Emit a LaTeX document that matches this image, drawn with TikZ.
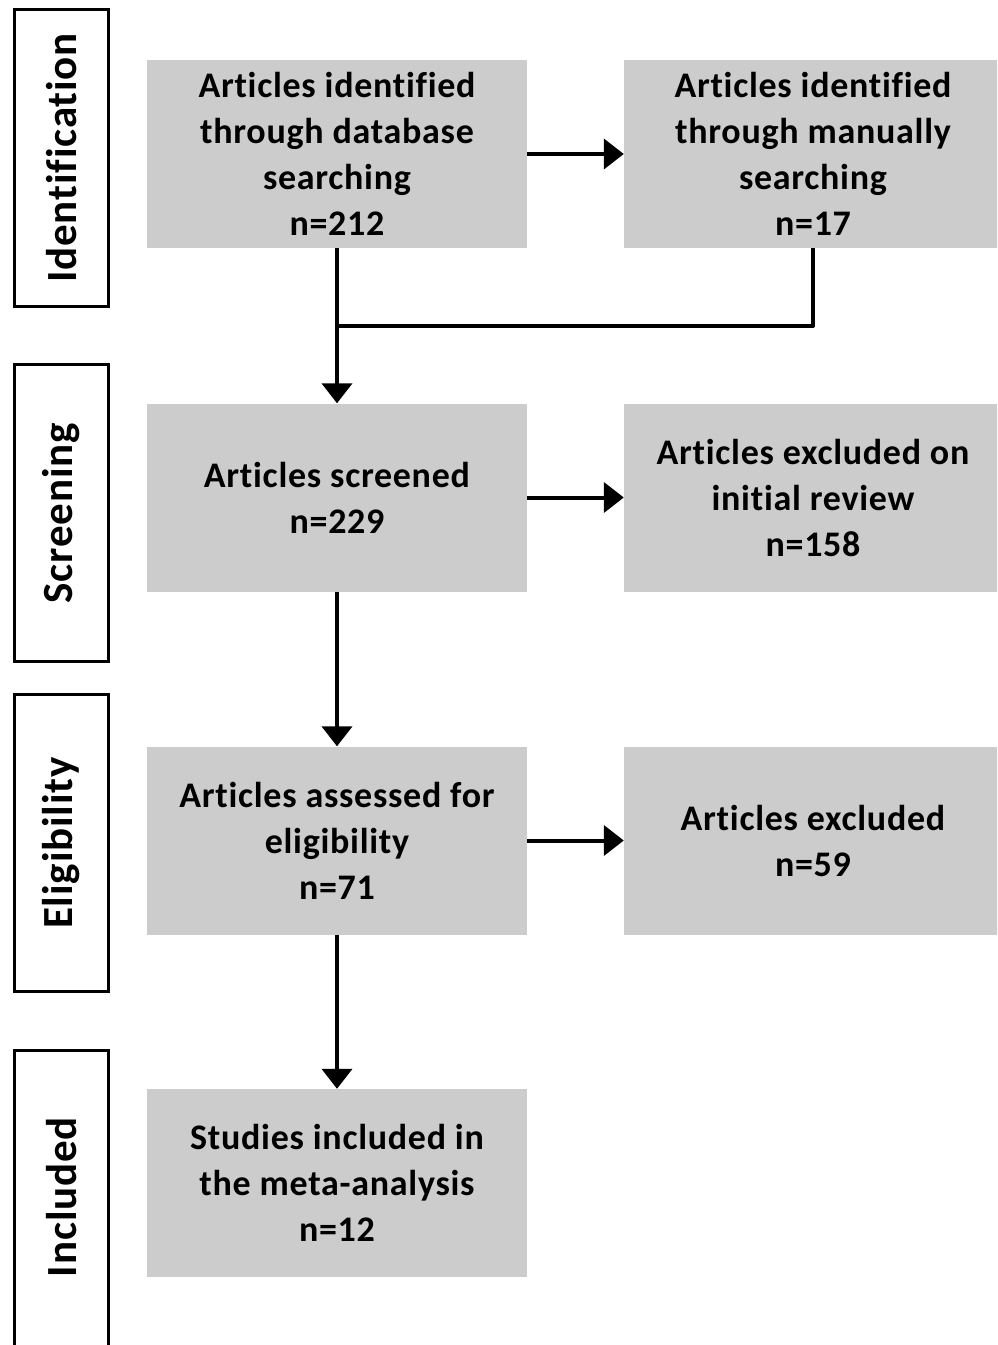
\documentclass[tikz,border=0pt]{standalone}
\usepackage{fontspec}
\setmainfont[Ligatures=NoCommon]{Carlito}
\newfontfamily\boxfont[LetterSpace=2,Ligatures=NoCommon]{Carlito}
\usetikzlibrary{arrows.meta}
\definecolor{boxgray}{RGB}{204,204,204}
\begin{document}
\begin{tikzpicture}[x=1pt,y=-1pt,
  box/.style={fill=boxgray, minimum height=188pt, inner sep=0pt, align=center,
    font=\boxfont\bfseries\fontsize{36}{46}\selectfont},
  stagefont/.style={font=\boxfont\bfseries\fontsize{43}{50}\selectfont},
  stage/.style={draw, line width=3pt, fill=white, rotate=90, minimum height=94pt,
    inner sep=0pt, stagefont},
  conn/.style={line width=4pt},
  arr/.style={line width=4pt, -{Triangle[length=20pt,width=30pt]}}]
\useasboundingbox (0,0) rectangle (997,1345);
\clip (0,0) rectangle (997,1345);
% stage labels
\node[stage, minimum width=297pt] (sid) at (61.5,158) {Identification};
\node[stage, minimum width=297pt] (ssc) at (61.5,513) {Screening};
\node[stage, minimum width=297pt] (sel) at (61.5,843) {Eligibility};
\node[stage, minimum width=400pt] (sin) at (61.5,1250.5) {};
\node[stagefont, rotate=90] (sintxt) at (61.5,1197) {Included};
% boxes
\node[box, minimum width=380pt] (b1) at (337,154) {Articles identified\\through database\\searching\\n=212};
\node[box, minimum width=378pt] (b2) at (813,154) {Articles identified\\through manually\\searching\\n=17};
\node[box, minimum width=380pt] (b3) at (337,497.5) {Articles screened\\n=229};
\node[box, minimum width=378pt] (b4) at (813,497.5) {Articles excluded on\\initial review\\n=158};
\node[box, minimum width=380pt] (b5) at (337,840.5) {Articles assessed for\\eligibility\\n=71};
\node[box, minimum width=378pt] (b6) at (813,840.5) {Articles excluded\\n=59};
\node[box, minimum width=380pt] (b7) at (337,1183) {Studies included in\\the meta-analysis\\n=12};
% connectors
\coordinate (j) at (337,326);
\draw[arr] (b1.east) -- (b2.west);
\draw[arr] (b1.south) -- (b3.north);
\draw[conn, line join=round] (b2.south) |- (j);
\draw[arr] (b3.east) -- (b4.west);
\draw[arr] (b3.south) -- (b5.north);
\draw[arr] (b5.east) -- (b6.west);
\draw[arr] (b5.south) -- (b7.north);
\end{tikzpicture}
\end{document}
